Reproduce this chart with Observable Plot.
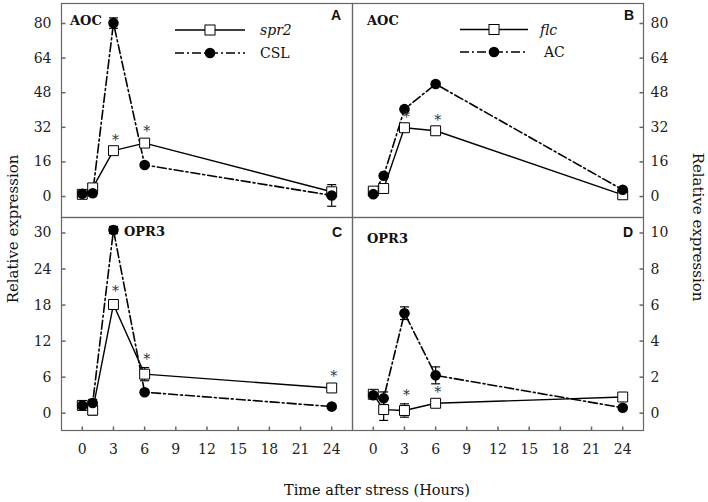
<!DOCTYPE html>
<html><head><meta charset="utf-8">
<script src="https://cdn.jsdelivr.net/npm/d3@7"></script>
<script src="https://cdn.jsdelivr.net/npm/@observablehq/plot@0.6"></script>
<style>
body{margin:0;background:#fff;}
#wrap{position:relative;width:708px;height:502px;overflow:hidden;font-family:"DejaVu Serif",serif;}
#wrap > svg{position:absolute;overflow:visible;}
</style></head><body><div id="wrap"></div>
<script>
// ---------- data ----------
const hours = [0, 1, 3, 6, 24];
const xTicks = [0, 3, 6, 9, 12, 15, 18, 21, 24];
const yTicksAOC = [0, 16, 32, 48, 64, 80];
const yTicksOPR3_C = [0, 6, 12, 18, 24, 30];
const yTicksOPR3_D = [0, 2, 4, 6, 8, 10];

// Panel A: AOC, spr2 vs CSL
const aocSpr2 = [1.0, 4.0, 21.2, 24.7, 2.2];
const aocSpr2Err = [0.6, 1.2, 1.2, 1.5, 1.5];
const aocCSL = [1.3, 1.5, 80.2, 14.6, 0.5];
const aocCSLErr = [1.0, 1.3, 2.4, 1.0, 5.0];
const starsA = [3, 6];

// Panel B: AOC, flc vs AC
const aocFlc = [2.5, 3.7, 31.8, 30.4, 0.8];
const aocFlcErr = [1.0, 1.0, 1.2, 1.0, 0.6];
const aocAC = [1.1, 9.6, 40.4, 52.0, 3.1];
const aocACErr = [0.5, 0.8, 1.0, 1.0, 0.8];
const starsB = [3, 6];

// Panel C: OPR3, spr2 vs CSL
const oprSpr2 = [1.3, 0.5, 18.1, 6.5, 4.2];
const oprSpr2Err = [0.8, 0.8, 0.8, 1.1, 0.6];
const oprCSL = [1.3, 1.7, 30.5, 3.5, 1.1];
const oprCSLErr = [0.5, 0.6, 0.6, 0.4, 0.3];
const starsC = [3, 6, 24];

// Panel D: OPR3, flc vs AC
const oprFlc = [1.05, 0.2, 0.15, 0.55, 0.9];
const oprFlcErr = [0.25, 0.6, 0.37, 0.15, 0.15];
const oprAC = [1.0, 0.83, 5.55, 2.1, 0.3];
const oprACErr = [0.1, 0.35, 0.35, 0.47, 0.1];
const starsD = [3, 6];

// ---------- helpers ----------
const rows = (vals, errs) => hours.map((h, i) => ({h, v: vals[i], e: errs[i]}));
const capSym = {draw(ctx, size){ const r = Math.sqrt(size/Math.PI); ctx.moveTo(-r,0); ctx.lineTo(r,0); }};
const tickRight = {draw(ctx, size){ const r = Math.sqrt(size/Math.PI); ctx.moveTo(0,0); ctx.lineTo(r,0); }};
const tickLeft = {draw(ctx, size){ const r = Math.sqrt(size/Math.PI); ctx.moveTo(0,0); ctx.lineTo(-r,0); }};
const tickUp = {draw(ctx, size){ const r = Math.sqrt(size/Math.PI); ctx.moveTo(0,0); ctx.lineTo(0,-r); }};
const FRAME = "#666";
const DASH = "9,3,2,3";

function panel({left, top, width, height, margin, yDomain, yTicks, side, bottomAxis, sq, ci, stars}) {
  const marks = [
    Plot.frame({stroke: FRAME, strokeWidth: 1.2}),
    Plot.dot(yTicks, {y: d => d, frameAnchor: side, symbol: side === "left" ? tickRight : tickLeft, r: 4, stroke: FRAME, fill: "none"}),
    Plot.axisY(yTicks, {anchor: side, tickSize: 0, tickPadding: side === "left" ? 10 : 7, label: null, fill: "#222"}),
    Plot.line(sq, {x: "h", y: "v", stroke: "#000", strokeWidth: 1.4}),
    Plot.line(ci, {x: "h", y: "v", stroke: "#000", strokeWidth: 1.6, strokeDasharray: DASH}),
    ...[sq, ci].flatMap(s => [
      Plot.ruleX(s, {x: "h", y1: d => d.v - d.e, y2: d => d.v + d.e, stroke: "#000", strokeWidth: 1.2}),
      Plot.dot(s, {x: "h", y: d => d.v + d.e, symbol: capSym, r: 4.5, stroke: "#000", strokeWidth: 1.2, fill: "none"}),
      Plot.dot(s, {x: "h", y: d => d.v - d.e, symbol: capSym, r: 4.5, stroke: "#000", strokeWidth: 1.2, fill: "none"})
    ]),
    Plot.dot(sq, {x: "h", y: "v", symbol: "square", r: 5.6, fill: "#fff", stroke: "#000", strokeWidth: 1}),
    Plot.dot(ci, {x: "h", y: "v", r: 5.3, fill: "#000"}),
    Plot.text(sq.filter(d => stars.includes(d.h)), {x: "h", y: d => d.v + d.e, text: () => "*", dx: 2, dy: -8, fontSize: 14, fill: "#333"})
  ];
  if (bottomAxis) {
    marks.push(
      Plot.dot(xTicks, {x: d => d, frameAnchor: "bottom", symbol: tickUp, r: 4, stroke: FRAME, fill: "none"}),
      Plot.axisX(xTicks, {anchor: "bottom", tickSize: 0, tickPadding: 14, label: null, fill: "#222"})
    );
  }
  const svg = Plot.plot({
    width, height,
    marginLeft: margin[3], marginRight: margin[1], marginTop: margin[0], marginBottom: margin[2],
    x: {domain: [-2, 26], axis: bottomAxis ? undefined : null},
    y: {domain: yDomain},
    style: {fontFamily: "DejaVu Serif, serif", fontSize: "14px", background: "transparent", overflow: "visible"},
    marks
  });
  svg.style.left = left + "px";
  svg.style.top = top + "px";
  return svg;
}

const wrap = document.getElementById("wrap");
// A
wrap.appendChild(panel({left: 0, top: 0, width: 354, height: 219, margin: [3, 2, 2, 61],
  yDomain: [-9.7, 89.25], yTicks: yTicksAOC, side: "left", bottomAxis: false,
  sq: rows(aocSpr2, aocSpr2Err), ci: rows(aocCSL, aocCSLErr), stars: starsA}));
// B
wrap.appendChild(panel({left: 350, top: 0, width: 358, height: 219, margin: [3, 65, 2, 2],
  yDomain: [-9.7, 89.25], yTicks: yTicksAOC, side: "right", bottomAxis: false,
  sq: rows(aocFlc, aocFlcErr), ci: rows(aocAC, aocACErr), stars: starsB}));
// C
wrap.appendChild(panel({left: 0, top: 215, width: 354, height: 250, margin: [2, 2, 35, 61],
  yDomain: [-2.88, 32.58], yTicks: yTicksOPR3_C, side: "left", bottomAxis: true,
  sq: rows(oprSpr2, oprSpr2Err), ci: rows(oprCSL, oprCSLErr), stars: starsC}));
// D
wrap.appendChild(panel({left: 350, top: 215, width: 358, height: 250, margin: [2, 65, 35, 2],
  yDomain: [-0.96, 10.86], yTicks: yTicksOPR3_D, side: "right", bottomAxis: true,
  sq: rows(oprFlc, oprFlcErr), ci: rows(oprAC, oprACErr), stars: starsD}));

// ---------- overlay: labels, legends, titles ----------
const ov = d3.select(wrap).append("svg").attr("width", 708).attr("height", 502)
  .style("left", "0px").style("top", "0px").style("pointer-events", "none")
  .style("font-family", "DejaVu Serif, serif");

const geneLabels = [
  {t: "AOC", x: 70, y: 20}, {t: "AOC", x: 367, y: 20},
  {t: "OPR3", x: 124, y: 231}, {t: "OPR3", x: 367, y: 238}
];
ov.selectAll("text.gene").data(geneLabels).join("text").attr("class", "gene")
  .attr("x", d => d.x).attr("y", d => d.y).attr("dominant-baseline", "central")
  .attr("font-weight", "bold").attr("font-size", 13).attr("fill", "#111").text(d => d.t);

const panelLetters = [
  {t: "A", x: 336, y: 15}, {t: "B", x: 629, y: 15},
  {t: "C", x: 337, y: 232}, {t: "D", x: 628, y: 232}
];
ov.selectAll("text.pl").data(panelLetters).join("text").attr("class", "pl")
  .attr("x", d => d.x).attr("y", d => d.y).attr("dominant-baseline", "central").attr("text-anchor", "middle")
  .attr("font-family", "Liberation Sans, Arial, sans-serif").attr("font-weight", "bold").attr("font-size", 14)
  .attr("fill", "#111").text(d => d.t);

const legends = [
  {x1: 175, x2: 245, y: 30, dash: null, square: true, label: "spr2", italic: true, lx: 260},
  {x1: 175, x2: 245, y: 53, dash: DASH, square: false, label: "CSL", italic: false, lx: 260},
  {x1: 460, x2: 528, y: 29.5, dash: null, square: true, label: "flc", italic: true, lx: 540},
  {x1: 460, x2: 528, y: 52, dash: DASH, square: false, label: "AC", italic: false, lx: 544}
];
legends.forEach(L => {
  ov.append("line").attr("x1", L.x1).attr("x2", L.x2).attr("y1", L.y).attr("y2", L.y)
    .attr("stroke", "#000").attr("stroke-width", 1.5).attr("stroke-dasharray", L.dash);
  const cx = (L.x1 + L.x2) / 2;
  if (L.square) ov.append("rect").attr("x", cx - 5).attr("y", L.y - 5).attr("width", 10).attr("height", 10)
    .attr("fill", "#fff").attr("stroke", "#000");
  else ov.append("circle").attr("cx", cx).attr("cy", L.y).attr("r", 5.3).attr("fill", "#000");
  ov.append("text").attr("x", L.lx).attr("y", L.y).attr("dominant-baseline", "central")
    .attr("font-size", 14).attr("font-style", L.italic ? "italic" : null).attr("fill", "#111").text(L.label);
});

ov.append("text").attr("transform", "translate(13,229) rotate(-90)").attr("text-anchor", "middle")
  .attr("dominant-baseline", "central").attr("font-size", 15).attr("fill", "#111").text("Relative expression");
ov.append("text").attr("transform", "translate(698,227) rotate(90)").attr("text-anchor", "middle")
  .attr("dominant-baseline", "central").attr("font-size", 15).attr("fill", "#111").text("Relative expression");
ov.append("text").attr("x", 377).attr("y", 490).attr("text-anchor", "middle")
  .attr("dominant-baseline", "central").attr("font-size", 14.5).attr("fill", "#111").text("Time after stress (Hours)");
</script></body></html>
